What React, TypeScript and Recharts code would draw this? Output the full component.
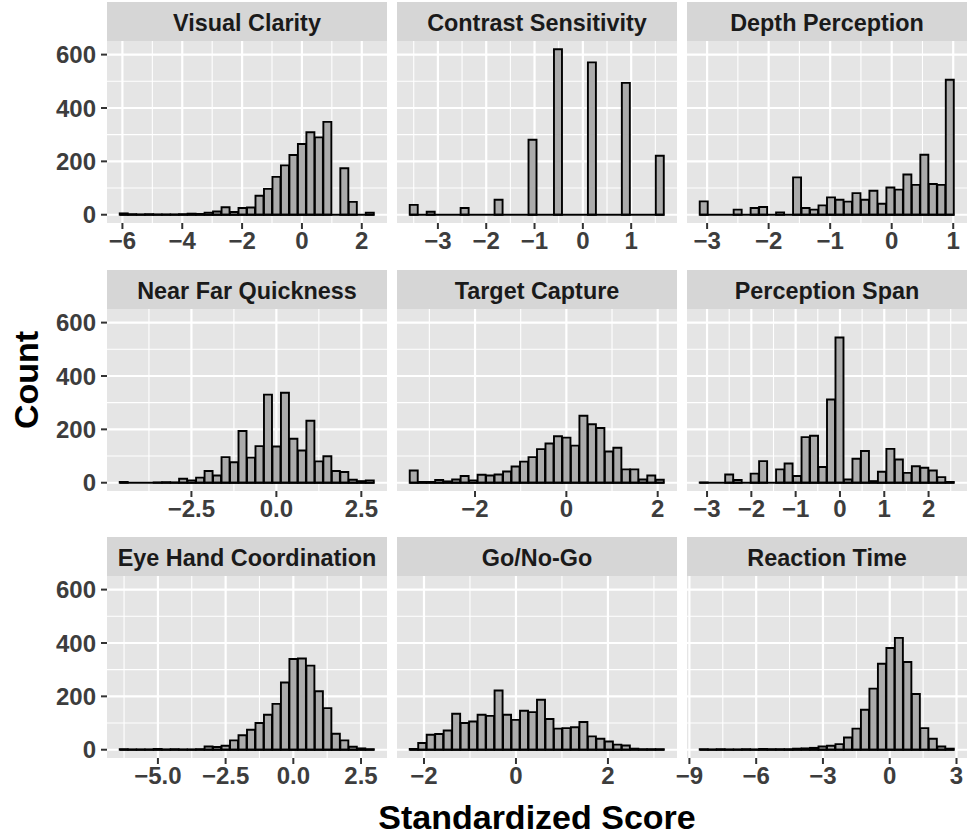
import React from "react";
import { BarChart, Bar, XAxis, YAxis, CartesianGrid, ReferenceLine } from "recharts";

const titles = [
  "Visual Clarity",
  "Contrast Sensitivity",
  "Depth Perception",
  "Near Far Quickness",
  "Target Capture",
  "Perception Span",
  "Eye Hand Coordination",
  "Go/No-Go",
  "Reaction Time",
];

// counts per bin (30 bins per panel)
const visualClarity = [5, 2, 1, 2, 1, 1, 1, 2, 4, 3, 8, 12, 28, 10, 25, 27, 71, 97, 142, 185, 224, 265, 309, 290, 348, 0, 174, 48, 0, 8];
const contrastSensitivity = [37, 0, 11, 0, 0, 0, 25, 0, 0, 0, 56, 0, 0, 0, 281, 0, 0, 620, 0, 0, 0, 571, 0, 0, 0, 494, 0, 0, 0, 221];
const depthPerception = [50, 0, 0, 0, 19, 0, 25, 29, 0, 9, 0, 140, 25, 19, 35, 65, 56, 49, 81, 56, 90, 41, 102, 94, 151, 112, 225, 115, 112, 506];
const nearFarQuickness = [3, 0, 0, 0, 1, 2, 1, 15, 9, 19, 44, 27, 96, 77, 194, 94, 137, 330, 136, 337, 165, 121, 232, 80, 99, 44, 40, 11, 6, 9];
const targetCapture = [46, 3, 3, 10, 5, 12, 25, 9, 30, 27, 31, 42, 61, 79, 96, 126, 147, 174, 169, 139, 251, 219, 205, 117, 131, 50, 50, 12, 27, 11];
const perceptionSpan = [1, 0, 0, 31, 10, 0, 34, 81, 0, 50, 72, 25, 171, 176, 59, 312, 544, 12, 90, 119, 6, 41, 127, 87, 37, 62, 56, 46, 21, 3];
const eyeHandCoordination = [2, 1, 1, 1, 3, 1, 2, 1, 1, 2, 12, 10, 15, 35, 54, 75, 100, 131, 172, 252, 340, 342, 315, 219, 156, 60, 35, 11, 5, 2];
const goNoGo = [3, 25, 56, 59, 72, 135, 100, 106, 131, 127, 222, 131, 112, 146, 141, 187, 115, 79, 81, 84, 104, 50, 41, 31, 19, 16, 4, 2, 2, 2];
const reactionTime = [2, 1, 2, 1, 1, 2, 1, 3, 2, 2, 2, 4, 5, 7, 12, 15, 21, 46, 79, 150, 229, 322, 381, 419, 329, 209, 81, 41, 12, 4];

const allCounts = [
  visualClarity, contrastSensitivity, depthPerception,
  nearFarQuickness, targetCapture, perceptionSpan,
  eyeHandCoordination, goNoGo, reactionTime,
];

// left edge of the first bin and bin width, per panel
const binStarts = [-6.09, -3.583, -3.12, -4.61, -3.43, -3.165, -6.41, -2.31, -8.536];
const binWidths = [0.2836, 0.1756, 0.1379, 0.2497, 0.1858, 0.1915, 0.3133, 0.1845, 0.3812];

const xTicks = [
  [-6, -4, -2, 0, 2],
  [-3, -2, -1, 0, 1],
  [-3, -2, -1, 0, 1],
  [-2.5, 0, 2.5],
  [-2, 0, 2],
  [-3, -2, -1, 0, 1, 2],
  [-5, -2.5, 0, 2.5],
  [-2, 0, 2],
  [-9, -6, -3, 0, 3],
];
const xMinor = [
  [-5, -3, -1, 1],
  [-3.5, -2.5, -1.5, -0.5, 0.5, 1.5],
  [-2.5, -1.5, -0.5, 0.5],
  [-3.75, -1.25, 1.25],
  [-3, -1, 1],
  [-2.5, -1.5, -0.5, 0.5, 1.5, 2.5],
  [-6.25, -3.75, -1.25, 1.25],
  [-1, 1, 3],
  [-7.5, -4.5, -1.5, 1.5],
];
const tickDecimals = [0, 0, 0, 1, 0, 0, 1, 0, 0];

const yTicks = [0, 200, 400, 600];
const yMinor = [100, 300, 500];
const yDomain = [-31, 651];

// layout
const COL_LEFT = [107, 397, 687];
const ROW_TOP = [2, 270, 537];
const PANEL_W = 280;
const PANEL_H = 182;
const STRIP_H = 39;
const AXIS_H = 45;
const SIDE = 30;

const FONT = "'Liberation Sans', Arial, Helvetica, sans-serif";
const tickStyle = { fontSize: 24, fontWeight: 700, fill: "#3d3d3d" };

const fmt = (d: number) => (v: number) => {
  const s = Math.abs(v).toFixed(d);
  return v < 0 ? "\u2212" + s : s;
};

function Panel({ idx }: { idx: number }) {
  const col = idx % 3;
  const row = Math.floor(idx / 3);
  const counts = allCounts[idx];
  const start = binStarts[idx];
  const w = binWidths[idx];
  const end = start + counts.length * w;
  const pad = (end - start) * 0.05;
  const data = counts.map((c, i) => ({ x: start + (i + 0.5) * w, count: c }));

  const marginLeft = col === 0 ? 0 : SIDE;
  const chartLeft = col === 0 ? 0 : COL_LEFT[col] - SIDE;
  const chartWidth = (col === 0 ? COL_LEFT[0] : SIDE) + PANEL_W + SIDE;

  return (
    <>
      <div
        style={{
          position: "absolute",
          left: COL_LEFT[col],
          top: ROW_TOP[row],
          width: PANEL_W,
          height: STRIP_H,
          background: "#D6D6D6",
          display: "flex",
          alignItems: "center",
          justifyContent: "center",
          paddingTop: 3,
          boxSizing: "border-box",
          fontSize: 23.4,
          fontWeight: 700,
          color: "#1a1a1a",
          whiteSpace: "nowrap",
        }}
      >
        {titles[idx]}
      </div>
      <div style={{ position: "absolute", left: chartLeft, top: ROW_TOP[row] + STRIP_H }}>
        <BarChart
          width={chartWidth}
          height={PANEL_H + AXIS_H}
          data={data}
          margin={{ top: 0, right: SIDE, bottom: 0, left: marginLeft }}
          barCategoryGap={0}
          barGap={0}
        >
          <CartesianGrid
            fill="#E5E5E5"
            stroke="#FFFFFF"
            strokeWidth={1.1}
            horizontalValues={yMinor}
            verticalValues={xMinor[idx]}
          />
          <CartesianGrid
            stroke="#FFFFFF"
            strokeWidth={2.2}
            horizontalValues={yTicks}
            verticalValues={xTicks[idx]}
          />
          <XAxis
            dataKey="x"
            type="number"
            domain={[start - pad, end + pad]}
            allowDataOverflow
            ticks={xTicks[idx]}
            interval={0}
            height={AXIS_H}
            tickFormatter={fmt(tickDecimals[idx])}
            tick={tickStyle}
            tickSize={6}
            tickMargin={3}
            tickLine={{ stroke: "#333333", strokeWidth: 2 }}
            axisLine={false}
          />
          <YAxis
            type="number"
            domain={yDomain}
            allowDataOverflow
            ticks={yTicks}
            interval={0}
            width={COL_LEFT[0]}
            hide={col !== 0}
            tickFormatter={fmt(0)}
            tick={tickStyle}
            tickSize={6}
            tickMargin={5}
            tickLine={{ stroke: "#333333", strokeWidth: 2 }}
            axisLine={false}
          />
          <Bar
            dataKey="count"
            fill="#ABABAB"
            stroke="#000000"
            strokeWidth={1.9}
            isAnimationActive={false}
          />
          <ReferenceLine
            segment={[{ x: start, y: 0 }, { x: end, y: 0 }]}
            stroke="#000000"
            strokeWidth={1.9}
          />
        </BarChart>
      </div>
    </>
  );
}

export default function App() {
  return (
    <div
      style={{
        position: "absolute",
        left: 0,
        top: 0,
        width: 968,
        height: 838,
        background: "#FFFFFF",
        overflow: "hidden",
        fontFamily: FONT,
      }}
    >
      {titles.map((_, i) => (
        <Panel key={i} idx={i} />
      ))}
      <svg
        width={968}
        height={838}
        style={{ position: "absolute", left: 0, top: 0, pointerEvents: "none" }}
      >
        <text
          x={537}
          y={829}
          textAnchor="middle"
          fontSize={34}
          fontWeight={700}
          fill="#000000"
          fontFamily={FONT}
        >
          Standardized Score
        </text>
        <text
          transform="translate(38,380) rotate(-90)"
          textAnchor="middle"
          fontSize={34}
          fontWeight={700}
          fill="#000000"
          fontFamily={FONT}
        >
          Count
        </text>
      </svg>
    </div>
  );
}
